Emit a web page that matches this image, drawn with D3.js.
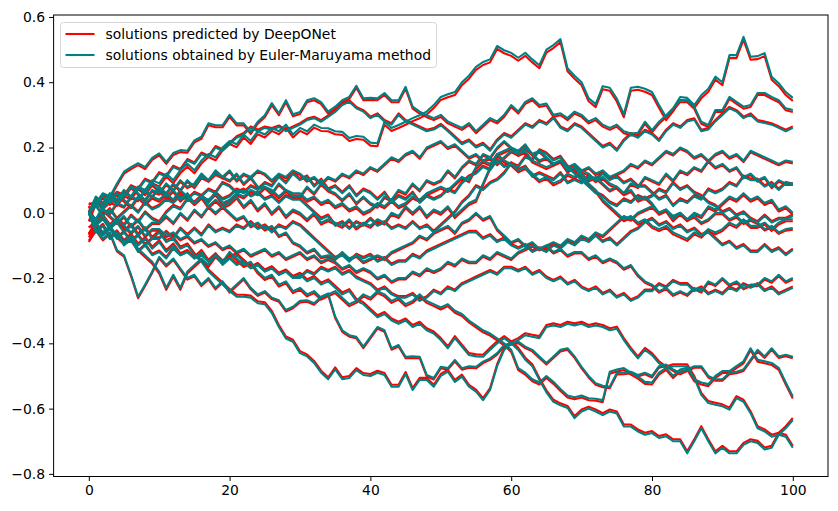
<!DOCTYPE html>
<html>
<head>
<meta charset="utf-8">
<script src="https://cdn.jsdelivr.net/npm/d3@7"></script>
<style>
  body { margin: 0; background: #fff; }
  svg { display: block; font-family: "DejaVu Sans", sans-serif; }
</style>
</head>
<body>
<svg id="chart" width="838" height="511"></svg>
<script>
// time steps 0..100
const steps = d3.range(0, 101)

// Euler-Maruyama paths
const pathU1 = [0,-.02,.02,.04,.03,.06,.05,.08,.07,.10,.09,.12,.10,.13,.15,.13,.16,.18,.17,.20,.22,.21,.24,.22,.25,.24,.26,.25,.27,.24,.26,.25,.27,.26,.259,.25,.248,.229,.235,.233,.215,.213,.279,.26,.269,.279,.29,.299,.31,.33,.355,.363,.37,.40,.42,.447,.462,.47,.511,.498,.49,.475,.49,.47,.452,.50,.514,.532,.443,.42,.40,.351,.333,.388,.383,.35,.302,.383,.386,.38,.37,.33,.293,.32,.355,.352,.33,.36,.38,.417,.40,.483,.483,.539,.478,.48,.489,.417,.397,.37,.352]
const pathU2 = [0,.03,.06,.05,.09,.126,.14,.152,.14,.168,.182,.156,.183,.192,.19,.222,.233,.274,.268,.268,.30,.274,.274,.248,.279,.299,.336,.305,.345,.302,.309,.345,.351,.339,.31,.325,.345,.355,.389,.351,.352,.351,.367,.345,.345,.386,.325,.31,.299,.29,.30,.28,.27,.26,.275,.25,.27,.29,.28,.30,.33,.31,.34,.351,.33,.335,.30,.305,.29,.31,.30,.28,.29,.27,.26,.27,.25,.243,.245,.279,.253,.279,.299,.32,.345,.345,.325,.279,.269,.315,.315,.355,.34,.325,.33,.367,.367,.355,.345,.32,.315]
const pathU3 = [0,.03,.01,.04,.06,.05,.08,.07,.10,.09,.12,.11,.14,.13,.16,.15,.18,.17,.20,.19,.21,.23,.24,.26,.25,.26,.255,.263,.25,.26,.27,.284,.29,.279,.294,.309,.33,.34,.32,.31,.29,.30,.28,.27,.30,.28,.27,.26,.25,.255,.268,.25,.23,.21,.22,.20,.21,.19,.22,.24,.23,.25,.27,.26,.28,.27,.29,.26,.25,.27,.26,.24,.22,.20,.21,.19,.22,.24,.23,.25,.24,.22,.25,.27,.26,.28,.285,.25,.255,.28,.30,.32,.31,.29,.30,.28,.275,.27,.26,.25,.26]
const pathU4 = [0,-.02,.01,.00,.03,.02,.05,.04,.07,.05,.08,.06,.09,.07,.10,.08,.11,.10,.12,.11,.13,.10,.12,.11,.13,.12,.10,.12,.11,.13,.12,.10,.11,.09,.11,.10,.12,.11,.13,.12,.14,.13,.15,.17,.16,.18,.19,.17,.20,.21,.22,.20,.21,.19,.17,.18,.16,.17,.15,.17,.19,.18,.20,.18,.16,.17,.15,.16,.14,.15,.13,.14,.12,.13,.11,.12,.13,.15,.14,.16,.15,.17,.19,.18,.20,.19,.17,.18,.16,.18,.19,.17,.18,.16,.19,.18,.17,.16,.15,.16,.156]
const pathM1 = [0,.04,.02,.05,.03,.05,.08,.06,.04,.07,.06,.09,.07,.10,.08,.09,.12,.10,.13,.11,.10,.12,.09,.11,.08,.08,.06,.09,.07,.05,.05,.08,.06,.09,.07,.06,.04,.06,.03,.05,.03,.02,.05,.04,.07,.06,.09,.07,.10,.09,.10,.13,.11,.14,.16,.15,.18,.17,.20,.22,.20,.19,.21,.18,.19,.17,.15,.16,.13,.14,.12,.10,.11,.09,.07,.08,.06,.09,.08,.11,.10,.09,.12,.10,.13,.12,.14,.13,.16,.14,.15,.13,.14,.11,.12,.10,.11,.08,.10,.09,.09]
const pathM2 = [0,-.03,-.01,-.04,-.02,-.04,-.01,-.03,.00,-.02,-.03,.00,.02,.01,.04,.03,.05,.03,.06,.04,.05,.07,.06,.08,.07,.09,.08,.11,.09,.12,.10,.11,.08,.10,.07,.08,.06,.08,.05,.07,.06,.04,.06,.03,.05,.04,.06,.03,.05,.04,.05,.07,.06,.09,.11,.12,.14,.13,.16,.14,.15,.13,.14,.11,.12,.11,.10,.12,.09,.10,.09,.11,.10,.12,.10,.11,.09,.10,.08,.08,.06,.04,.05,.02,.04,.03,.05,.04,.07,.06,.07,.09,.08,.11,.10,.10,.08,.09,.07,.09,.085]
const pathM3 = [0,.05,.03,.06,.04,.07,.05,.08,.06,.09,.07,.05,.07,.04,.06,.03,.05,.02,.04,.02,.03,.05,.02,.04,.01,.03,.00,.02,-.01,.01,.00,-.02,.00,-.03,-.02,-.03,-.04,-.02,-.045,-.03,-.04,-.02,-.03,.00,-.01,.02,.00,.02,-.01,.01,.00,.02,-.01,.01,.03,.04,.09,.14,.18,.16,.15,.13,.14,.12,.10,.11,.09,.10,.12,.11,.13,.12,.10,.11,.09,.08,.06,.07,.04,.05,.03,.00,.01,-.02,.00,-.02,.00,-.01,.02,.01,.03,.05,.04,.06,.04,.05,.03,.04,.01,.02,.00]
const pathM4 = [0,.02,-.01,.01,-.02,.00,.02,.00,.03,.01,.02,.04,.03,.05,.04,.06,.05,.07,.06,.09,.08,.06,.07,.05,.06,.04,.05,.03,.05,.04,.04,.02,.00,-.02,-.01,-.04,-.03,-.05,-.03,-.04,-.02,-.04,-.03,-.05,-.04,-.05,-.03,-.05,-.04,-.06,-.04,-.02,.00,.03,.05,.08,.07,.09,.10,.12,.15,.14,.17,.16,.19,.18,.16,.17,.14,.12,.10,.08,.06,.05,.03,.02,.04,.03,.05,.04,.05,.07,.06,.09,.07,.08,.06,.05,.03,.02,.00,.01,-.01,.00,-.02,-.03,-.01,-.03,-.02,-.02,-.01]
const pathM5 = [0,-.02,.01,-.01,-.03,-.01,-.04,-.02,-.05,-.03,-.03,-.01,-.03,.00,-.02,.01,-.01,.02,.00,.02,.00,-.02,-.01,-.04,-.03,-.05,-.04,-.07,-.06,-.09,-.10,-.12,-.11,-.135,-.13,-.14,-.12,-.14,-.13,-.15,-.14,-.13,-.14,-.12,-.11,-.10,-.09,-.07,-.08,-.06,-.05,-.04,-.06,-.03,-.02,.00,-.02,-.01,-.05,-.07,-.09,-.08,-.10,-.09,-.11,-.10,-.09,-.10,-.08,-.09,-.07,-.08,-.06,-.07,-.05,-.03,-.01,-.02,.00,.01,.02,.00,.01,-.01,.00,-.02,-.01,-.03,-.02,.00,.00,-.02,-.01,-.03,-.02,-.03,-.05,-.04,-.06,-.05,-.047]
const pathM6 = [0,.03,.05,.03,.06,.04,.02,.05,.03,.05,.04,.06,.04,.07,.05,.03,.05,.04,.06,.03,.04,.06,.05,.07,.06,.08,.07,.05,.07,.06,.06,.04,.05,.03,.04,.02,.03,.01,.02,.00,.01,.03,.02,.04,.02,.03,.05,.04,.06,.07,.08,.07,.09,.11,.10,.14,.16,.15,.18,.19,.20,.18,.19,.16,.15,.14,.15,.16,.13,.14,.11,.09,.07,.04,.02,.00,-.02,-.01,-.03,-.02,-.04,-.05,-.04,-.06,-.07,-.08,-.06,-.07,-.05,-.06,-.05,-.03,-.04,-.02,-.04,-.04,-.03,-.05,-.03,-.02,-.02]
const pathM7 = [0,-.05,-.07,-.05,-.08,-.06,-.09,-.07,-.10,-.08,-.08,-.06,-.08,-.05,-.07,-.05,-.07,-.04,-.06,-.05,-.06,-.04,-.05,-.03,-.05,-.04,-.06,-.04,-.05,-.03,-.04,-.06,-.08,-.10,-.12,-.14,-.13,-.15,-.13,-.14,-.13,-.15,-.14,-.16,-.15,-.15,-.13,-.14,-.12,-.11,-.10,-.09,-.08,-.07,-.06,-.06,-.08,-.07,-.09,-.08,-.10,-.11,-.10,-.12,-.11,-.12,-.10,-.11,-.09,-.10,-.08,-.09,-.07,-.09,-.08,-.10,-.08,-.06,-.05,-.03,-.02,-.04,-.03,-.05,-.04,-.06,-.05,-.07,-.06,-.08,-.10,-.09,-.11,-.10,-.12,-.12,-.10,-.12,-.11,-.13,-.114]
const pathM8 = [0,-.03,-.01,-.04,-.02,-.04,-.06,-.04,-.07,-.05,-.05,-.07,-.06,-.08,-.07,-.09,-.08,-.10,-.09,-.11,-.10,-.12,-.11,-.13,-.12,-.11,-.13,-.12,-.14,-.13,-.12,-.14,-.13,-.15,-.14,-.15,-.17,-.16,-.18,-.17,-.18,-.20,-.19,-.21,-.20,-.20,-.18,-.19,-.17,-.18,-.17,-.15,-.16,-.14,-.15,-.15,-.13,-.14,-.12,-.13,-.14,-.12,-.11,-.10,-.11,-.10,-.12,-.11,-.13,-.12,-.12,-.14,-.13,-.15,-.14,-.15,-.17,-.16,-.19,-.21,-.22,-.24,-.23,-.25,-.24,-.25,-.23,-.24,-.21,-.22,-.20,-.22,-.21,-.23,-.22,-.22,-.20,-.21,-.19,-.21,-.20]
const pathM9 = [0,-.06,-.04,-.08,-.06,-.10,-.08,-.12,-.10,-.13,-.12,-.14,-.11,-.13,-.12,-.14,-.13,-.15,-.13,-.15,-.14,-.16,-.15,-.17,-.16,-.18,-.17,-.19,-.18,-.20,-.20,-.18,-.19,-.17,-.18,-.17,-.19,-.18,-.20,-.21,-.22,-.24,-.23,-.25,-.26,-.26,-.25,-.27,-.26,-.24,-.25,-.23,-.24,-.22,-.21,-.20,-.19,-.18,-.19,-.17,-.17,-.18,-.17,-.19,-.18,-.20,-.21,-.20,-.22,-.21,-.23,-.24,-.23,-.25,-.24,-.26,-.25,-.27,-.26,-.24,-.24,-.22,-.23,-.21,-.22,-.22,-.24,-.23,-.25,-.24,-.25,-.23,-.24,-.22,-.23,-.22,-.24,-.23,-.25,-.24,-.23]
const pathLA = [0,-.04,-.02,-.05,-.03,-.06,-.04,-.07,-.05,-.08,-.06,-.09,-.08,-.11,-.10,-.13,-.15,-.18,-.20,-.22,-.24,-.257,-.257,-.26,-.277,-.28,-.307,-.35,-.385,-.395,-.43,-.44,-.46,-.49,-.51,-.48,-.51,-.506,-.482,-.497,-.50,-.49,-.497,-.533,-.533,-.494,-.543,-.512,-.512,-.533,-.50,-.487,-.518,-.502,-.533,-.548,-.574,-.543,-.47,-.42,-.40,-.39,-.375,-.38,-.384,-.35,-.345,-.35,-.34,-.345,-.34,-.35,-.345,-.35,-.36,-.355,-.39,-.42,-.446,-.42,-.436,-.461,-.477,-.47,-.47,-.47,-.506,-.558,-.583,-.588,-.593,-.603,-.568,-.579,-.614,-.66,-.67,-.686,-.68,-.686,-.72]
const pathLB = [0,-.05,-.08,-.06,-.114,-.13,-.19,-.257,-.22,-.18,-.135,-.16,-.14,-.17,-.20,-.19,-.22,-.20,-.23,-.21,-.24,-.22,-.20,-.23,-.25,-.24,-.26,-.268,-.298,-.288,-.27,-.268,-.277,-.257,-.247,-.318,-.36,-.375,-.38,-.41,-.38,-.35,-.36,-.415,-.405,-.441,-.44,-.441,-.497,-.506,-.472,-.476,-.451,-.476,-.47,-.472,-.456,-.446,-.43,-.405,-.40,-.395,-.41,-.42,-.44,-.46,-.44,-.42,-.415,-.44,-.472,-.50,-.522,-.53,-.533,-.491,-.49,-.487,-.497,-.49,-.50,-.47,-.465,-.48,-.49,-.48,-.47,-.47,-.50,-.51,-.51,-.49,-.487,-.48,-.45,-.42,-.44,-.415,-.44,-.435,-.441]
const pathLE = [0,-.03,-.06,-.04,-.07,-.09,-.08,-.11,-.13,-.15,-.18,-.23,-.19,-.23,-.18,-.16,-.14,-.16,-.13,-.15,-.12,-.14,-.16,-.15,-.18,-.20,-.19,-.22,-.21,-.24,-.23,-.25,-.24,-.26,-.25,-.24,-.26,-.28,-.27,-.25,-.26,-.24,-.25,-.27,-.26,-.28,-.27,-.25,-.27,-.28,-.29,-.28,-.30,-.31,-.33,-.345,-.36,-.37,-.385,-.40,-.42,-.476,-.49,-.51,-.52,-.50,-.518,-.54,-.56,-.565,-.56,-.568,-.57,-.574,-.487,-.48,-.476,-.49,-.502,-.518,-.52,-.49,-.475,-.50,-.48,-.475,-.51,-.52,-.525,-.50,-.485,-.485,-.47,-.455,-.415,-.45,-.455,-.46,-.475,-.52,-.563]
const pathLC = [0,-.06,-.04,-.08,-.06,-.09,-.07,-.10,-.08,-.11,-.09,-.12,-.10,-.13,-.12,-.14,-.12,-.15,-.13,-.16,-.14,-.13,-.15,-.17,-.16,-.18,-.17,-.19,-.18,-.20,-.19,-.21,-.20,-.22,-.21,-.23,-.25,-.24,-.27,-.28,-.30,-.32,-.31,-.33,-.34,-.33,-.35,-.34,-.36,-.37,-.39,-.415,-.384,-.41,-.436,-.44,-.441,-.42,-.40,-.384,-.40,-.42,-.45,-.47,-.512,-.55,-.579,-.59,-.598,-.629,-.609,-.60,-.609,-.62,-.609,-.615,-.655,-.655,-.67,-.68,-.675,-.69,-.685,-.70,-.70,-.737,-.70,-.66,-.70,-.737,-.72,-.737,-.737,-.711,-.70,-.705,-.725,-.72,-.68,-.66,-.635]

const eulerPaths = [pathU1, pathU2, pathU3, pathU4, pathM1, pathM2, pathM3, pathM4, pathM5,
  pathM6, pathM7, pathM8, pathM9, pathLA, pathLB, pathLE, pathLC]

// DeepONet prediction at t = 0 (the red spike at the left edge), one per path
const deepStart = [.03, .035, .02, -.02, .01, -.05, .00, -.03, -.06, .02, -.08, -.04, -.09, -.07, -.085, -.06, -.075]
// red line sits a pixel or two off the teal one (style only, in px)
const redNudge = [3, 2, -1.5, 1.5, 1.5, -1.5, 2, -1.5, 1.5, 2, -1.5, 1.5, -1.5, -2, 1.5, 2, -2]

const xTicks = [0, 20, 40, 60, 80, 100]
const yTicks = [-0.8, -0.6, -0.4, -0.2, 0.0, 0.2, 0.4, 0.6]
const legendLabels = ['solutions predicted by DeepONet', 'solutions obtained by Euler-Maruyama method']

const redColor = '#ff0000'
const tealColor = '#008080'
const fontSize = 13.9
const lineWidth = 2.08

const margin = { top: 15, right: 10, bottom: 34.5, left: 53.6 }
const width = 838
const height = 511
const plotW = width - margin.left - margin.right
const plotH = height - margin.top - margin.bottom

const svg = d3.select('#chart')

const x = d3.scaleLinear().domain([-5, 105]).range([margin.left, margin.left + plotW])
const y = d3.scaleLinear().domain([-0.808, 0.606]).range([margin.top + plotH, margin.top])

svg.append('defs').append('clipPath').attr('id', 'plotClip')
  .append('rect')
  .attr('x', margin.left).attr('y', margin.top)
  .attr('width', plotW).attr('height', plotH)

const line = d3.line()
  .x((d, i) => x(steps[i]))
  .y((d) => y(d))

const lines = svg.append('g').attr('clip-path', 'url(#plotClip)')

// DeepONet first, Euler-Maruyama drawn over it
lines.append('g').attr('id', 'deeponet')
  .selectAll('path')
  .data(eulerPaths)
  .join('path')
  .attr('d', (d, i) => line([deepStart[i]].concat(d.slice(1))))
  .attr('transform', (d, i) => `translate(0,${redNudge[i]})`)
  .attr('fill', 'none')
  .attr('stroke', redColor)
  .attr('stroke-width', lineWidth)
  .attr('stroke-linejoin', 'round')

lines.append('g').attr('id', 'euler')
  .selectAll('path')
  .data(eulerPaths)
  .join('path')
  .attr('d', line)
  .attr('fill', 'none')
  .attr('stroke', tealColor)
  .attr('stroke-width', lineWidth)
  .attr('stroke-linejoin', 'round')

// axes
svg.append('g')
  .attr('transform', `translate(0,${margin.top + plotH})`)
  .call(d3.axisBottom(x).tickValues(xTicks).tickFormat(d3.format('d')).tickSize(4.5).tickPadding(4))
svg.append('g')
  .attr('transform', `translate(${margin.left},0)`)
  .call(d3.axisLeft(y).tickValues(yTicks).tickFormat(d3.format('.1f')).tickSize(4.5).tickPadding(4))

svg.selectAll('.domain').remove()
svg.selectAll('.tick line').attr('stroke', '#000').attr('stroke-width', 1)
svg.selectAll('.tick text')
  .attr('font-family', '"DejaVu Sans", sans-serif')
  .attr('font-size', fontSize)
  .attr('fill', '#000')

svg.append('rect')
  .attr('x', margin.left).attr('y', margin.top)
  .attr('width', plotW).attr('height', plotH)
  .attr('fill', 'none').attr('stroke', '#000').attr('stroke-width', 1)

// legend
const legend = svg.append('g').attr('transform', 'translate(60.5,22.5)')
legend.append('rect')
  .attr('width', 376).attr('height', 45)
  .attr('rx', 3)
  .attr('fill', '#fff').attr('fill-opacity', 0.8)
  .attr('stroke', '#d6d6d6').attr('stroke-width', 1)

const entries = legend.selectAll('g.entry')
  .data(legendLabels)
  .join('g')
  .attr('class', 'entry')
  .attr('transform', (d, i) => `translate(0,${11.5 + i * 21})`)

entries.append('line')
  .attr('x1', 5).attr('x2', 34)
  .attr('stroke', (d, i) => (i === 0 ? redColor : tealColor))
  .attr('stroke-width', lineWidth)

entries.append('text')
  .attr('x', 45).attr('y', 5)
  .attr('font-family', '"DejaVu Sans", sans-serif')
  .attr('font-size', fontSize)
  .text((d) => d)
</script>
</body>
</html>
